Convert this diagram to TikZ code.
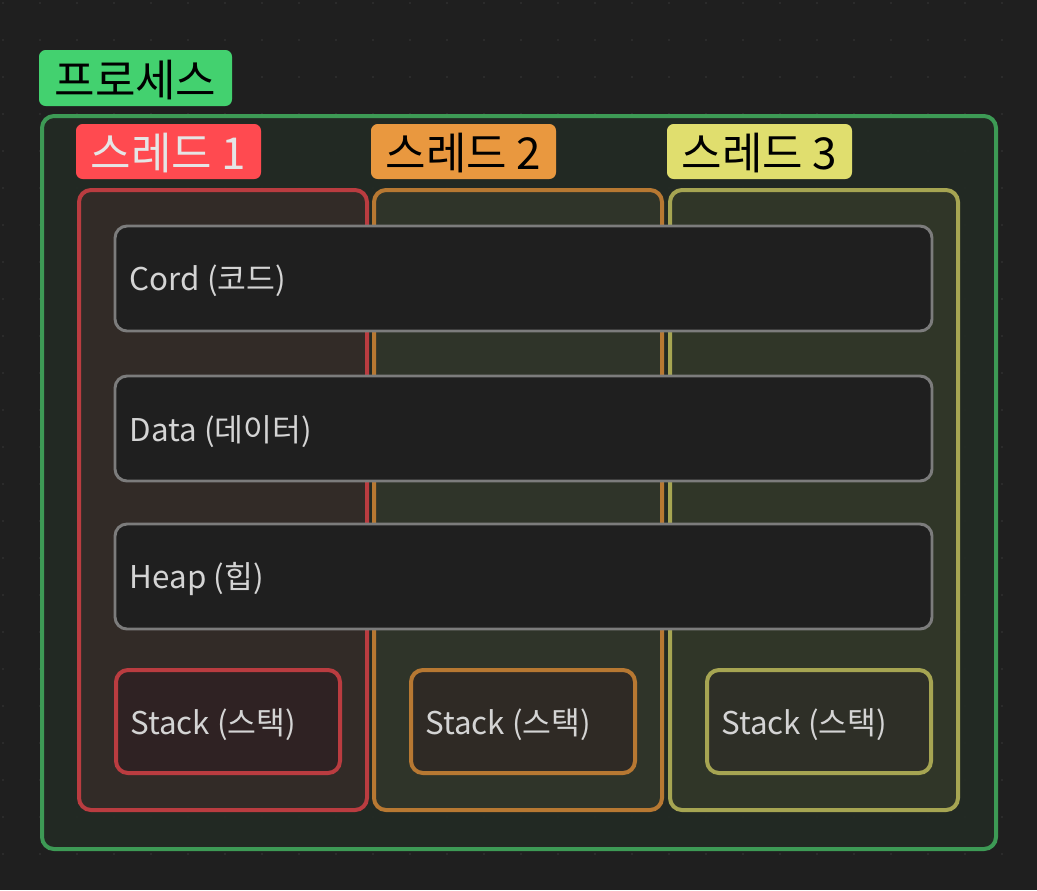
\documentclass[tikz,border=0pt]{standalone}
\usepackage{fontspec}
\setmainfont{Noto Sans CJK KR}
\usetikzlibrary{fit}
\definecolor{bg}{HTML}{1F1F1F}
\definecolor{dotc}{HTML}{303030}
\definecolor{procfill}{HTML}{232A24}
\definecolor{procline}{HTML}{3D9A55}
\definecolor{proclabel}{HTML}{43D16F}
\definecolor{onefill}{HTML}{342C28}
\definecolor{oneline}{HTML}{BA3C40}
\definecolor{onelabel}{HTML}{FF4A50}
\definecolor{onestack}{HTML}{2F2223}
\definecolor{twofill}{HTML}{31352A}
\definecolor{twoline}{HTML}{B77832}
\definecolor{twolabel}{HTML}{E9983F}
\definecolor{twostack}{HTML}{2F2A25}
\definecolor{threefill}{HTML}{323829}
\definecolor{threeline}{HTML}{A6A552}
\definecolor{threelabel}{HTML}{E0DE6E}
\definecolor{threestack}{HTML}{2E2F27}
\definecolor{segline}{HTML}{7C7C7C}
\definecolor{segtext}{HTML}{D4D4D4}
\begin{document}
\begin{tikzpicture}[x=0.75pt,y=-0.75pt,
  area/.style={inner sep=0pt, outer sep=0pt, rounded corners=9pt, line width=3pt},
  tag/.style={inner sep=0pt, outer sep=0pt, rounded corners=5pt},
  tagtext/.style={inner sep=0pt, yshift=-1.5pt, font=\fontsize{33}{38}\selectfont},
  seg/.style={area, draw=segline, fill=bg, line width=2.2pt},
  segtxt/.style={inner sep=0pt, anchor=west, yshift=-2pt, text=segtext, font=\fontsize{23.5}{28}\selectfont},
  stackbox/.style={area, line width=3pt}]
\useasboundingbox (0,0) rectangle (1037,890);
\fill[bg] (0,0) rectangle (1037,890);
\foreach \i in {3,40,...,1037}{
  \foreach \j in {3,40,...,890}{
    \fill[dotc] (\i,\j) circle[radius=1.1];
  }
}
% process
\node[tag, fill=proclabel, fit={(39,50) (232,106)}] (proctag) {};
\node[tagtext, text=black] (proctagtext) at (proctag.center) {프로세스};
\node[area, draw=procline, fill=procfill, fill opacity=0.92, fit={(42,116) (996,849)}] (proc) {};
% thread labels
\node[tag, fill=onelabel, fit={(76,124) (261,179)}] (onetag) {};
\node[tagtext, text=white!90!black] (onetagtext) at (onetag.center) {스레드 1};
\node[tag, fill=twolabel, fit={(371,124) (556,179)}] (twotag) {};
\node[tagtext, text=black] (twotagtext) at (twotag.center) {스레드 2};
\node[tag, fill=threelabel, fit={(667,124) (852,179)}] (threetag) {};
\node[tagtext, text=black] (threetagtext) at (threetag.center) {스레드 3};
% thread areas
\node[area, draw=oneline, fill=onefill, fill opacity=0.92, fit={(79,190) (367,810)}] (one) {};
\node[area, draw=twoline, fill=twofill, fill opacity=0.92, fit={(374,190) (662,810)}] (two) {};
\node[area, draw=threeline, fill=threefill, fill opacity=0.92, fit={(670,190) (958,810)}] (three) {};
% shared segments
\node[seg, fit={(115,226) (932,331)}] (cord) {};
\node[segtxt] (cordtext) at ([xshift=11pt]cord.west) {Cord (코드)};
\node[seg, fit={(115,376) (932,481)}] (data) {};
\node[segtxt] (datatext) at ([xshift=11pt]data.west) {Data (데이터)};
\node[seg, fit={(115,524) (932,629)}] (heap) {};
\node[segtxt] (heaptext) at ([xshift=11pt]heap.west) {Heap (힙)};
% stacks
\node[stackbox, draw=oneline, fill=onestack, fit={(116,670) (340,773)}] (onestack) {};
\node[segtxt] (onestacktext) at ([xshift=10.5pt]onestack.west) {Stack (스택)};
\node[stackbox, draw=twoline, fill=twostack, fit={(411,670) (635,773)}] (twostack) {};
\node[segtxt] (twostacktext) at ([xshift=10.5pt]twostack.west) {Stack (스택)};
\node[stackbox, draw=threeline, fill=threestack, fit={(707,670) (931,773)}] (threestack) {};
\node[segtxt] (threestacktext) at ([xshift=10.5pt]threestack.west) {Stack (스택)};
\end{tikzpicture}
\end{document}
